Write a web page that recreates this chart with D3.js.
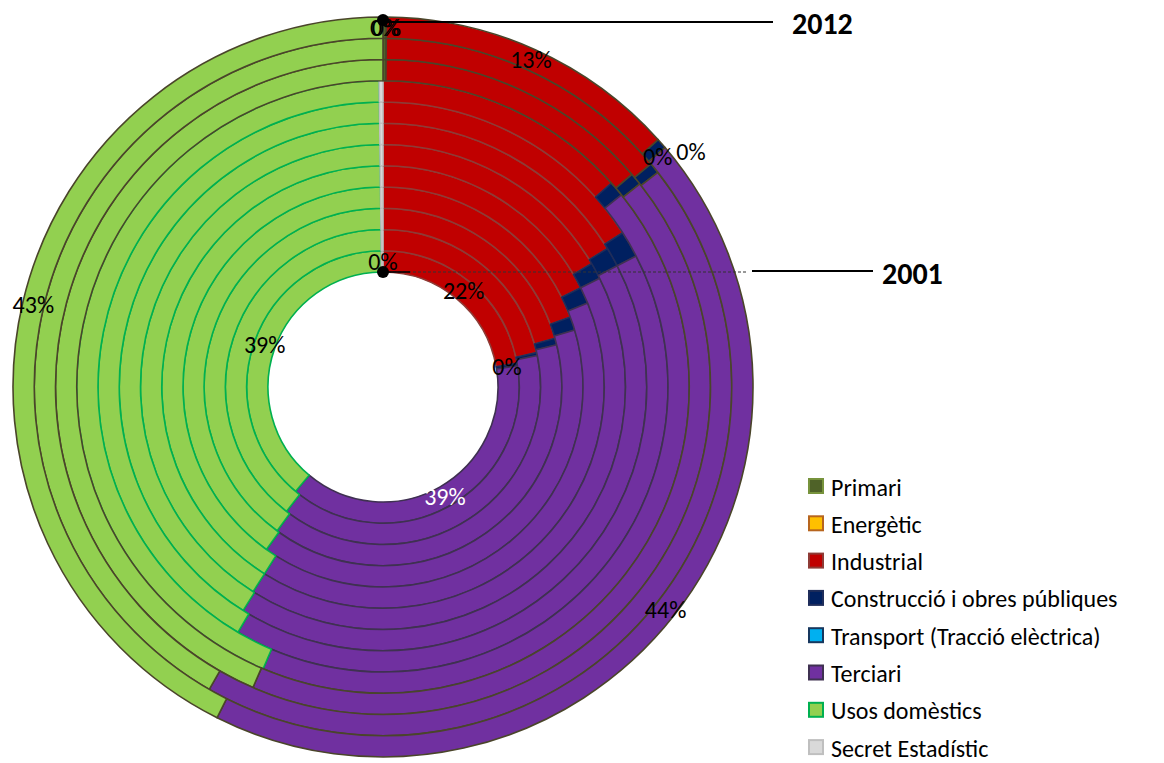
<!DOCTYPE html>
<html>
<head>
<meta charset="utf-8">
<script src="https://cdn.jsdelivr.net/npm/d3@7"></script>
<style>
  body { margin: 0; background: #fff; }
  svg { display: block; font-family: Calibri, Carlito, Lato, sans-serif; }
</style>
</head>
<body>
<div id="chart"></div>
<script>
// years, inner ring = first year
const years = [2001, 2002, 2003, 2004, 2005, 2006, 2007, 2008, 2009, 2010, 2011, 2012];
const categories = ['Primari', 'Energètic', 'Industrial', 'Construcció i obres públiques',
  'Transport (Tracció elèctrica)', 'Terciari', 'Usos domèstics', 'Secret Estadístic'];

// share of consumption per year (%)
const primari     = [0, 0, 0, 0, 0, 0, 0, 0, 0, 0.15, 0.15, 0.15];
const energetic   = [0, 0, 0, 0, 0, 0, 0, 0, 0, 0, 0, 0];
const industrial  = [22.2, 21.5, 20.6, 19.3, 17.6, 16.5, 16.2, 15.9, 13.4, 13.6, 13.8, 13.2];
const construccio = [0.3, 0.3, 0.6, 1.1, 1.2, 1.1, 1.2, 1.5, 0.8, 0.6, 0.5, 0.45];
const transport   = [0, 0, 0, 0, 0, 0, 0, 0, 0, 0, 0, 0];
const terciari    = [38.6, 38.7, 38.9, 39.5, 40.2, 41.4, 41.5, 41.1, 42.2, 42.15, 43.85, 43.6];
const domestics   = [38.7, 39.3, 39.7, 39.9, 40.8, 40.8, 40.9, 41.3, 43.4, 43.5, 41.7, 42.6];
const secret      = [0.2, 0.2, 0.2, 0.2, 0.2, 0.2, 0.2, 0.2, 0.2, 0, 0, 0];

const series = [primari, energetic, industrial, construccio, transport, terciari, domestics, secret];

// which slices get a % label on the first and last ring
const labelled = {
  2001: ['Primari', 'Industrial', 'Construcció i obres públiques', 'Terciari', 'Usos domèstics'],
  2012: ['Primari', 'Energètic', 'Industrial', 'Construcció i obres públiques',
         'Transport (Tracció elèctrica)', 'Terciari', 'Usos domèstics']
};

// styles
const fills   = ['#4f6228', '#ffc000', '#c00000', '#002060', '#00b0f0', '#7030a0', '#92d050', '#d9d9d9'];
const borders = ['#77933c', '#b7651e', '#8e3b36', '#1f2d5a', '#17375e', '#3f3151', '#00b050', '#bfbfbf'];
const outerBorder = '#4a452a';   // rings from 2010 on
const labelNudge = { '2012|Construcció i obres públiques': [4, 6], '2012|Transport (Tracció elèctrica)': [34, -3] };

const W = 1164, H = 763;
const cx = 383, cy = 387;

const svg = d3.select('#chart').append('svg')
  .attr('width', W).attr('height', H);
svg.append('rect').attr('width', W).attr('height', H).attr('fill', '#fff');

const rScale = d3.scaleLinear().domain([0, years.length]).range([115, 370]);
const pie = d3.pie().sort(null).value(d => d.value);
const color = d3.scaleOrdinal(categories, fills);
const border = d3.scaleOrdinal(categories, borders);

const g = svg.append('g').attr('transform', `translate(${cx},${cy})`);

const rings = years.map((y, i) => {
  const rows = categories.map((c, k) => ({ cat: c, value: series[k][i] }));
  const total = d3.sum(rows, d => d.value);
  return { year: y, i, total, arcs: pie(rows) };
});

rings.forEach(ring => {
  const arc = d3.arc().innerRadius(rScale(ring.i)).outerRadius(rScale(ring.i + 1));
  g.append('g').selectAll('path')
    .data(ring.arcs.filter(d => d.data.value > 0))
    .join('path')
      .attr('d', arc)
      .attr('fill', d => color(d.data.cat))
      .attr('stroke', d => ring.year >= 2010 ? outerBorder : border(d.data.cat))
      .attr('stroke-width', 1.6)
      .attr('stroke-linejoin', 'round');
});

// percentage labels
rings.filter(r => labelled[r.year]).forEach(ring => {
  const rm = (rScale(ring.i) + rScale(ring.i + 1)) / 2;
  const arc = d3.arc().innerRadius(rm).outerRadius(rm);
  g.append('g').selectAll('text')
    .data(ring.arcs.filter(d => labelled[ring.year].includes(d.data.cat)))
    .join('text')
      .attr('transform', d => {
        const [x, y] = arc.centroid(d);
        const n = labelNudge[ring.year + '|' + d.data.cat] || [0, 0];
        return `translate(${x + n[0]},${y + n[1]})`;
      })
      .attr('text-anchor', 'middle')
      .attr('dominant-baseline', 'central')
      .attr('font-size', 24)
      .attr('fill', d => (ring.i === 0 && d.data.cat === 'Terciari') ? '#fff' : '#000')
      .text(d => Math.round(d.data.value / ring.total * 100) + '%');
});

// year markers
const yTop = cy - rScale(years.length) + 4;
const yIn = cy - rScale(0);
svg.append('line').attr('x1', cx).attr('x2', 773).attr('y1', yTop + 1).attr('y2', yTop + 1)
  .attr('stroke', '#000').attr('stroke-width', 2);
svg.append('circle').attr('cx', cx).attr('cy', yTop - 1).attr('r', 6).attr('fill', '#000');
svg.append('text').attr('x', 792).attr('y', yTop + 2).attr('dominant-baseline', 'central')
  .attr('font-size', 30).attr('font-weight', 'bold').text(years[years.length - 1]);

svg.append('line').attr('x1', cx).attr('x2', 748).attr('y1', yIn).attr('y2', yIn)
  .attr('stroke', '#333').attr('stroke-width', 1).attr('stroke-dasharray', '3,2');
svg.append('line').attr('x1', cx).attr('x2', 410).attr('y1', yIn).attr('y2', yIn)
  .attr('stroke', '#000').attr('stroke-width', 1.5);
svg.append('line').attr('x1', 752).attr('x2', 873).attr('y1', yIn - 1).attr('y2', yIn - 1)
  .attr('stroke', '#000').attr('stroke-width', 2);
svg.append('circle').attr('cx', cx).attr('cy', yIn).attr('r', 6).attr('fill', '#000');
svg.append('text').attr('x', 882).attr('y', yIn + 1).attr('dominant-baseline', 'central')
  .attr('font-size', 30).attr('font-weight', 'bold').text(years[0]);

// legend
const legend = svg.append('g').attr('transform', 'translate(808,486)');
const item = legend.selectAll('g').data(categories).join('g')
  .attr('transform', (d, i) => `translate(0,${i * 37.3})`);
item.append('rect').attr('x', 1).attr('y', -7).attr('width', 14).attr('height', 14)
  .attr('fill', d => color(d)).attr('stroke', d => border(d)).attr('stroke-width', 2);
item.append('text').attr('x', 23).attr('y', 1).attr('dominant-baseline', 'central')
  .attr('font-size', 24).attr('fill', '#000').text(d => d);
</script>
</body>
</html>
